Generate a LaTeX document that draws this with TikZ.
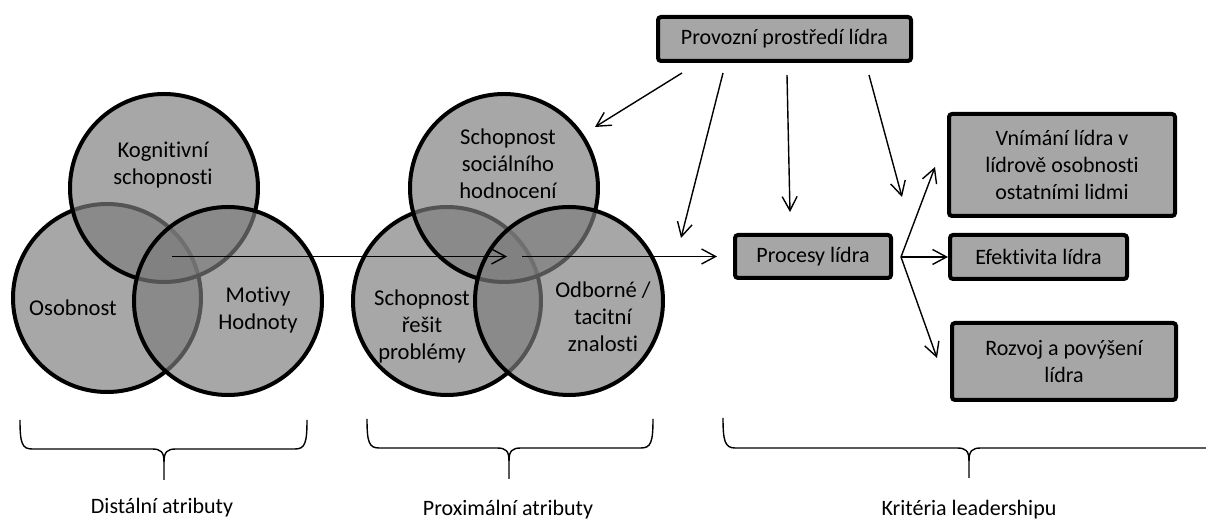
\documentclass[tikz,border=0pt]{standalone}
\usepackage{fontspec}
\setmainfont{Carlito}[Ligatures=NoCommon]
\usetikzlibrary{arrows.meta}
\begin{document}
\begin{tikzpicture}[x=0.5pt,y=-0.5pt,
  every node/.style={inner sep=0pt,outer sep=0pt},
  venn/.style={circle,draw=black,line width=2pt,fill=black!51,fill opacity=0.68,minimum size=94pt},
  lbl/.style={align=center,font=\fontsize{11.3}{13.5}\selectfont},
  box/.style={draw=black,line width=2pt,fill=black!35,rounded corners=1.5pt,align=center,font=\fontsize{11}{13.5}\selectfont},
  conn/.style={line width=0.7pt,-{Straight Barb[length=7pt,width=7.5pt]}},
  brace/.style={line width=0.7pt},
  caption/.style={anchor=base,font=\fontsize{11}{13.5}\selectfont}]

\useasboundingbox (0,0) rectangle (1206,522);

% distal attributes: three overlapping circles
\node[venn] (osob) at (107,298) {};
\node[venn] (kog)  at (164,188) {};
\node[venn] (mot)  at (228,301) {};
\node[lbl] (tosob) at (73,308) {Osobnost};
\node[lbl] (tkog)  at (163,165) {Kognitivní\\schopnosti};
\node[lbl] (tmot)  at (258,310) {Motivy\\Hodnoty};

% proximal attributes: three overlapping circles
\node[venn] (res) at (447,301) {};
\node[venn] (soc) at (504,188) {};
\node[venn] (odb) at (569,301) {};
\node[lbl] (tsoc) at (508,164) {Schopnost\\sociálního\\hodnocení};
\node[lbl] (tres) at (422,326) {Schopnost\\řešit\\problémy};
\node[lbl] (todb) at (603,317) {Odborné /\\tacitní\\znalosti};

% leadership boxes
\node[box,minimum width=126.5pt,minimum height=22pt] (prostredi) at (784.5,39) {Provozní prostředí lídra};
\node[box,minimum width=78pt,minimum height=21.5pt] (procesy) at (813,256.5) {Procesy lídra};
\node[box,minimum width=113pt,minimum height=51pt] (vnimani) at (1062,165) {Vnímání lídra v\\lídrově osobnosti\\ostatními lidmi};
\node[box,minimum width=88.5pt,minimum height=22pt] (efekt) at (1038.5,257) {Efektivita lídra};
\node[box,minimum width=112pt,minimum height=38.5pt] (rozvoj) at (1064,361.5) {Rozvoj a povýšení\\lídra};

% connector end points
\coordinate (e1s) at (682,73);  \coordinate (e1t) at (595,127);
\coordinate (e2s) at (723,73);  \coordinate (e2t) at (681,238);
\coordinate (e3s) at (787,75);  \coordinate (e3t) at (790,212);
\coordinate (e4s) at (869,75);  \coordinate (e4t) at (902,197);
\coordinate (h0) at (172,256.5); \coordinate (h1) at (507,256.5);
\coordinate (h2) at (522,256.5); \coordinate (h3) at (717,256.5);
\coordinate (fan) at (901,257);
\coordinate (f1) at (935,167); \coordinate (f2) at (948,257); \coordinate (f3) at (937,358);

% environment influences
\draw[conn] (e1s) -- (e1t);
\draw[conn] (e2s) -- (e2t);
\draw[conn] (e3s) -- (e3t);
\draw[conn] (e4s) -- (e4t);

% main flow
\draw[conn] (h0) -- (h1);
\draw[conn] (h2) -- (h3);
\draw[conn] (fan) -- (f1);
\draw[conn] (fan) -- (f2);
\draw[conn] (fan) -- (f3);

% braces
\draw[brace] (20,420) .. controls (20,443) and (22,449) .. (32,449) -- (152,449)
  .. controls (161,449) and (164,452) .. (164,462) -- (164,480);
\draw[brace] (164,462) .. controls (164,452) and (167,449) .. (176,449) -- (295,449)
  .. controls (305,449) and (307,443) .. (307,420);

\draw[brace] (367,419) .. controls (367,442) and (369,448) .. (379,448) -- (497,448)
  .. controls (506,448) and (509,451) .. (509,461) -- (509,479);
\draw[brace] (509,461) .. controls (509,451) and (512,448) .. (521,448) -- (641,448)
  .. controls (651,448) and (653,442) .. (653,419);

\draw[brace] (723,418) .. controls (723,441) and (725,448) .. (735,448) -- (957,448)
  .. controls (966,448) and (969,451) .. (969,461) -- (969,478);
\draw[brace] (969,461) .. controls (969,451) and (972,448) .. (981,448) -- (1206,448);

% captions
\node[caption] (cdist) at (162,514) {Distální atributy};
\node[caption] (cprox) at (508,516) {Proximální atributy};
\node[caption] (ckrit) at (969,516) {Kritéria leadershipu};
\end{tikzpicture}
\end{document}
